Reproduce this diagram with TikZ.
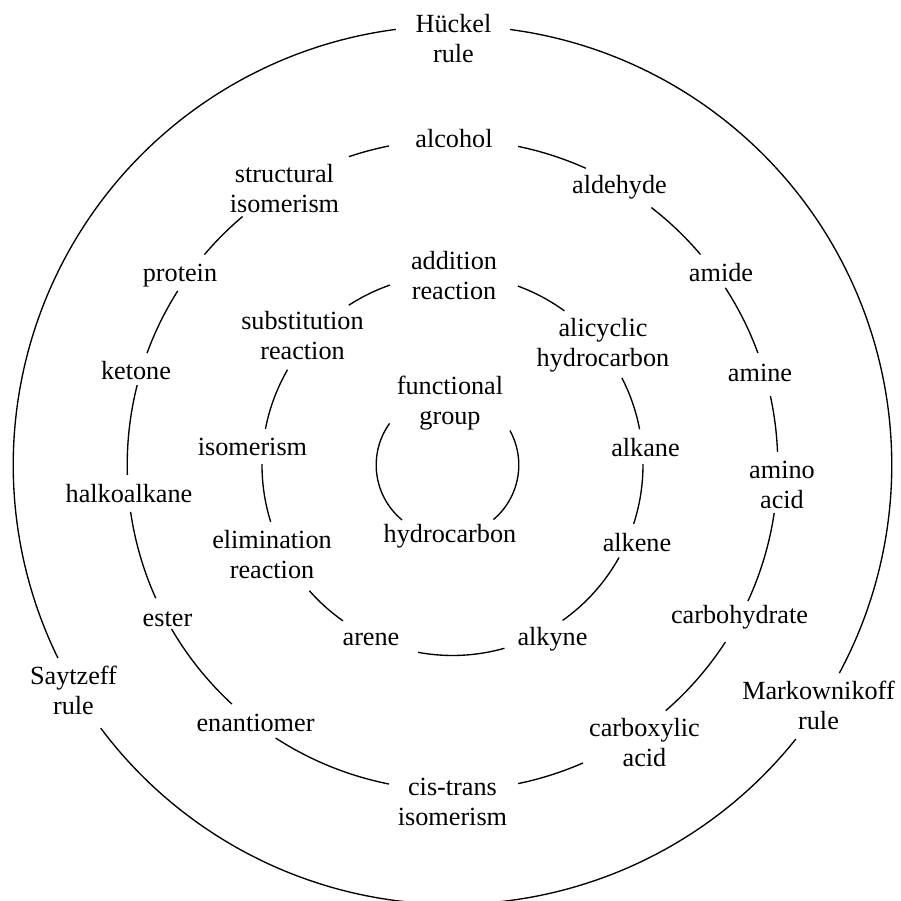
\documentclass[tikz,border=0pt]{standalone}
\usepackage{fontspec}
\setmainfont{Liberation Serif}
\begin{document}
\begin{tikzpicture}[x=0.408pt,y=0.408pt,
  lbl/.style={align=center, inner sep=0pt, font=\fontsize{10.7pt}{12.25pt}\selectfont},
  ring/.style={line width=0.55pt}]
\useasboundingbox (-452.5,-436) rectangle (448.5,465);
\coordinate (O) at (0,0);
\coordinate (Oin) at (-5,0);

% outer ring: three rules
\node[lbl] (huckel) at (1,426) {Hückel\\rule};
\node[lbl] (markownikoff) at (366,-240) {Markownikoff\\rule};
\node[lbl] (saytzeff) at (-379,-225) {Saytzeff\\rule};
\foreach \a/\b in {82.45/-28.28, -38.6/-143.2, 206.07/97.42}
  \draw[ring] (O) ++(\a:439.3) arc[start angle=\a, end angle=\b, radius=439.3];

% third ring: compound classes and isomerism
\node[lbl] (alcohol) at (1.5,326) {alcohol};
\node[lbl] (aldehyde) at (167,277.5) {aldehyde};
\node[lbl] (amide) at (268.5,192.5) {amide};
\node[lbl] (amine) at (307.5,92.5) {amine};
\node[lbl] (aminoacid) at (329.5,-20) {amino\\acid};
\node[lbl] (carbohydrate) at (287,-152.5) {carbohydrate};
\node[lbl] (carboxylic) at (192,-277.5) {carboxylic\\acid};
\node[lbl] (cistrans) at (0,-336.5) {cis-trans\\isomerism};
\node[lbl] (enantiomer) at (-197,-257.5) {enantiomer};
\node[lbl] (ester) at (-285,-154.5) {ester};
\node[lbl] (halkoalkane) at (-323.5,-28.5) {halkoalkane};
\node[lbl] (ketone) at (-316.5,94.5) {ketone};
\node[lbl] (protein) at (-272.5,189.5) {protein};
\node[lbl] (structural) at (-168,276) {structural\\isomerism};
\foreach \a/\b in {78.36/65.80, 52.31/40.33, 33.0/20.14, 12.22/2.29,
                   -8.49/-24.73, -32.96/-49.05, -66.35/-78.36,
                   -101.26/-122.94, -132.7/-149.7, -155.82/-171.71,
                   181.76/165.77, 159.86/147.63, 139.69/130.19, 108.57/101.26}
  \draw[ring] (O) ++(\a:325.3) arc[start angle=\a, end angle=\b, radius=325.3];

% second ring: reactions and hydrocarbons
\node[lbl] (addition) at (1.5,189) {addition\\reaction};
\node[lbl] (alicyclic) at (150.5,120) {alicyclic\\hydrocarbon};
\node[lbl] (alkane) at (193,17) {alkane};
\node[lbl] (alkene) at (184.5,-77.5) {alkene};
\node[lbl] (alkyne) at (100,-174.5) {alkyne};
\node[lbl] (arene) at (-81.5,-174.5) {arene};
\node[lbl] (elimination) at (-180.5,-89.5) {elimination\\reaction};
\node[lbl] (isomerism) at (-200,18) {isomerism};
\node[lbl] (substitution) at (-150,129.5) {substitution\\reaction};
\foreach \a/\b in {69.9/54.03, 27.17/10.81, 0.3/-18.0, -29.04/-54.69,
                   -74.16/-100.4, -125.07/-138.69, -162.65/-180.3,
                   169.07/149.99, 123/109.15}
  \draw[ring] (O) ++(\a:190.5) arc[start angle=\a, end angle=\b, radius=190.5];

% inner ring
\node[lbl] (functional) at (-2.5,62) {functional\\group};
\node[lbl] (hydrocarbon) at (-2.5,-71.5) {hydrocarbon};
\foreach \a/\b in {144.3/230.4, 28.9/-49.9}
  \draw[ring] (Oin) ++(\a:71.3) arc[start angle=\a, end angle=\b, radius=71.3];
\end{tikzpicture}
\end{document}
